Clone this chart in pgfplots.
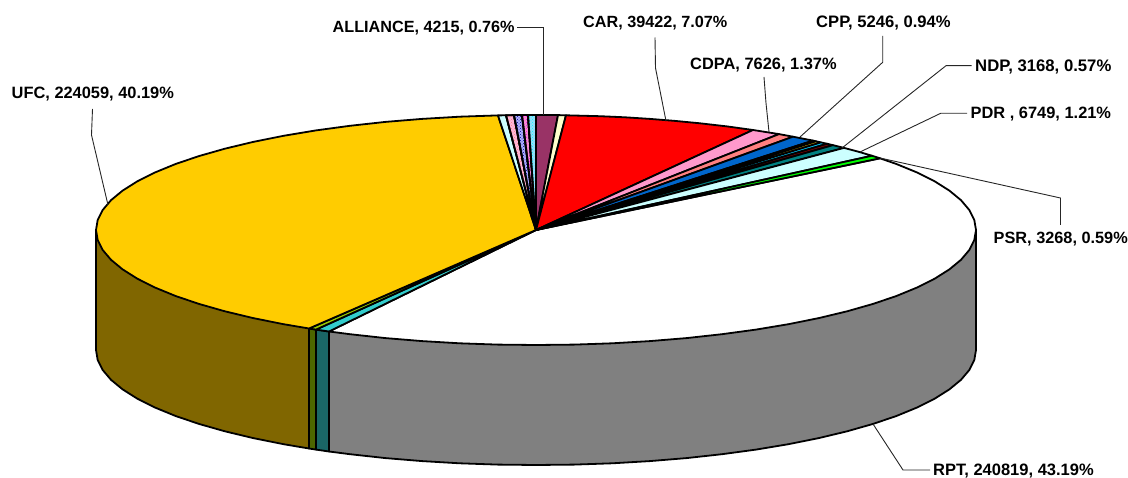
\documentclass[border=0pt]{standalone}
\usepackage{pgfplots}
\pgfplotsset{compat=1.18}
\usepackage{fontspec}
\setmainfont{Liberation Sans}
\usetikzlibrary{patterns}
\definecolor{cUFC}{HTML}{FFCC00}
\definecolor{cBrown}{HTML}{806600}
\definecolor{cOliveTop}{HTML}{99CC00}
\definecolor{cOliveSide}{HTML}{4D6600}
\definecolor{cTealTop}{HTML}{33CCCC}
\definecolor{cTealSide}{HTML}{1A6666}
\definecolor{cMaroon}{HTML}{993366}
\definecolor{cLY}{HTML}{FFFFCC}
\definecolor{cPink}{HTML}{FF99CC}
\definecolor{cSalmon}{HTML}{FF8080}
\definecolor{cBlue}{HTML}{0066CC}
\definecolor{cDkRed}{HTML}{800000}
\definecolor{cTeal}{HTML}{008080}
\definecolor{cLC}{HTML}{CCFFFF}
\definecolor{cSky}{HTML}{00CCFF}
\tikzset{
  slice/.style={draw=black, line width=1.8pt, line join=round, fill=#1},
  leader/.style={draw=black!85, line width=0.9pt, no markers},
  lab/.style={anchor=west, inner sep=0pt, font=\fontsize{#1}{18}\selectfont\bfseries}
}
\begin{document}
\begin{tikzpicture}
\path[use as bounding box] (0,0) rectangle (1128pt,478pt);
\begin{axis}[
  at={(0,0)}, anchor=south west,
  width=1128pt, height=478pt, scale only axis,
  xmin=0, xmax=1128, ymin=0, ymax=478, y dir=reverse,
  axis lines=none, clip=false, no markers
]
% side walls
\addplot[slice=gray] coordinates {(329,331.5)(976,230)(976,350)(974.3,360)(969.3,370)(961,379.8)(949.5,389.3)(934.8,398.6)(917.1,407.5)(896.4,416)(873.1,423.9)(847.1,431.3)(818.8,438.1)(788.4,444.2)(756,449.6)(722,454.2)(686.5,458.1)(649.9,461.1)(612.4,463.3)(574.4,464.6)(536,465)(497.6,464.6)(459.6,463.3)(422.1,461.1)(385.5,458.1)(350,454.2)(329,451.5)} --cycle;
\addplot[slice=cBrown] coordinates {(96,230)(96,350)(97.7,360)(102.7,370)(111,379.8)(122.5,389.3)(137.2,398.6)(154.9,407.5)(175.6,416)(198.9,423.9)(224.9,431.3)(253.2,438.1)(283.6,444.2)(309,448.5)(309,328.5)} --cycle;
\addplot[slice=cOliveSide] coordinates {(309,328.5)(309,448.5)(316,449.6)(316,329.6)} --cycle;
\addplot[slice=cTealSide] coordinates {(316,329.6)(316,449.6)(329,451.5)(329,331.5)} --cycle;
% top: RPT
\addplot[slice=white] coordinates {(536,230)(880,158.3)(896.4,164)(917.1,172.5)(934.8,181.4)(949.5,190.7)(961,200.2)(969.3,210)(974.3,220)(976,230)(974.3,240)(969.3,250)(961,259.8)(949.5,269.3)(934.8,278.6)(917.1,287.5)(896.4,296)(873.1,303.9)(847.1,311.3)(818.8,318.1)(788.4,324.2)(756,329.6)(722,334.2)(686.5,338.1)(649.9,341.1)(612.4,343.3)(574.4,344.6)(536,345)(497.6,344.6)(459.6,343.3)(422.1,341.1)(385.5,338.1)(350,334.2)(329,331.5)} --cycle;
\addplot[slice=cTealTop] coordinates {(536,230)(329,331.5)(316,329.6)} --cycle;
\addplot[slice=cOliveTop] coordinates {(536,230)(316,329.6)(309,328.5)} --cycle;
% top: UFC
\addplot[slice=cUFC] coordinates {(536,230)(309,328.5)(283.6,324.2)(253.2,318.1)(224.9,311.3)(198.9,303.9)(175.6,296)(154.9,287.5)(137.2,278.6)(122.5,269.3)(111,259.8)(102.7,250)(97.7,240)(96,230)(97.7,220)(102.7,210)(111,200.2)(122.5,190.7)(137.2,181.4)(154.9,172.5)(175.6,164)(198.9,156.1)(224.9,148.7)(253.2,141.9)(283.6,135.8)(316,130.4)(350,125.8)(385.5,121.9)(422.1,118.9)(459.6,116.7)(498,115.4)} --cycle;
% top: small patterned slices
\addplot[slice=cLC] coordinates {(536,230)(498,115.4)(506,115.3)} --cycle;
\addplot[slice=cPink!70!white, postaction={pattern=crosshatch dots, pattern color=cSalmon}] coordinates {(536,230)(506,115.3)(514,115.1)} --cycle;
\addplot[slice=blue!30!white, postaction={pattern=crosshatch dots, pattern color=blue!60!black}] coordinates {(536,230)(514,115.1)(522,115.06)} --cycle;
\addplot[slice=magenta!40!white, postaction={pattern=crosshatch dots, pattern color=magenta}] coordinates {(536,230)(522,115.06)(528,115)} --cycle;
\addplot[slice=cyan!40!white, postaction={pattern=crosshatch dots, pattern color=cyan}] coordinates {(536,230)(528,115)(536,115)} --cycle;
\addplot[slice=cMaroon] coordinates {(536,230)(536,115)(558,115.1)} --cycle;
\addplot[slice=cLY] coordinates {(536,230)(558,115.1)(566,115.3)} --cycle;
\addplot[slice=red] coordinates {(536,230)(566,115.3)(600,116.2)(625,117.3)(650,118.9)(675,120.9)(700,123.3)(727,126.4)(753,130)} --cycle;
\addplot[slice=cPink] coordinates {(536,230)(753,130)(779,134.1)} --cycle;
\addplot[slice=cSalmon] coordinates {(536,230)(779,134.1)(793,136.7)} --cycle;
\addplot[slice=cBlue] coordinates {(536,230)(793,136.7)(813,140.6)} --cycle;
\addplot[slice=magenta] coordinates {(536,230)(813,140.6)(816,141.3)} --cycle;
\addplot[slice=cUFC] coordinates {(536,230)(816,141.3)(821,142.4)} --cycle;
\addplot[slice=cSky] coordinates {(536,230)(821,142.4)(827,143.75)} --cycle;
\addplot[slice=cDkRed] coordinates {(536,230)(827,143.75)(833,145.15)} --cycle;
\addplot[slice=cTeal] coordinates {(536,230)(833,145.15)(844,147.9)} --cycle;
\addplot[slice=cLC] coordinates {(536,230)(844,147.9)(858,151.6)(872,155.75)} --cycle;
\addplot[slice=green] coordinates {(536,230)(872,155.75)(880,158.3)} --cycle;
% leader lines
\addplot[leader] coordinates {(517,27.7)(543.6,27.7)(543.6,115)};
\addplot[leader] coordinates {(655,37.5)(655.5,68)(666,121)};
\addplot[leader] coordinates {(764,77)(766,103)(769,132)};
\addplot[leader] coordinates {(882.7,36)(882.7,62.3)(800,137)};
\addplot[leader] coordinates {(971.7,65.7)(946,65.7)(842,148)};
\addplot[leader] coordinates {(967,113.3)(940.7,113.3)(860,152)};
\addplot[leader] coordinates {(1060.5,225)(1060.5,198)(880,158)};
\addplot[leader] coordinates {(930,470)(903,470)(873,424)};
\addplot[leader] coordinates {(92.5,109)(91.5,135)(108,205)};
% labels
\node[lab=16.2] at (axis cs:332.5,28.5) {ALLIANCE, 4215, 0.76\%};
\node[lab=16.2] at (axis cs:583,23) {CAR, 39422, 7.07\%};
\node[lab=16.4] at (axis cs:690,65) {CDPA, 7626, 1.37\%};
\node[lab=16.6] at (axis cs:816,23) {CPP, 5246, 0.94\%};
\node[lab=16.7] at (axis cs:975,66.5) {NDP, 3168, 0.57\%};
\node[lab=16.4] at (axis cs:970.5,114) {PDR , 6749, 1.21\%};
\node[lab=16.3] at (axis cs:993.5,239) {PSR, 3268, 0.59\%};
\node[lab=16.5] at (axis cs:933,471) {RPT, 240819, 43.19\%};
\node[lab=16.4] at (axis cs:11.5,94.5) {UFC, 224059, 40.19\%};
\end{axis}
\end{tikzpicture}
\end{document}
